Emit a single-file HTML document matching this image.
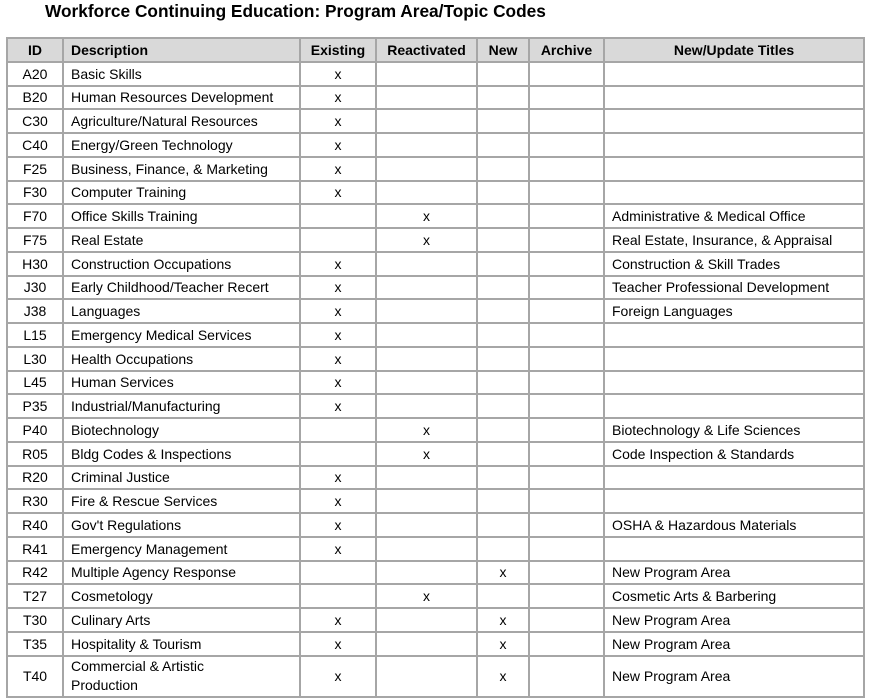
<!DOCTYPE html>
<html><head><meta charset="utf-8"><style>
body{margin:0;width:870px;height:700px;overflow:hidden;background:#fff;font-family:"Liberation Sans",sans-serif;color:#000}
h1{position:absolute;left:45px;top:0;margin:0;font-size:17.3px;font-weight:bold;line-height:22px}
table{position:absolute;left:6px;top:37px;border-collapse:collapse;table-layout:fixed;width:857px}
td,th{border:2px solid #a6a6a6;padding:0 0 0 7px;font-size:14px;height:21.75px;line-height:18px;white-space:nowrap;overflow:hidden}
th{background:#d9d9d9;font-weight:bold;text-align:center;padding:0;height:21.75px}
td.c{text-align:center;padding:0}
td.i{text-align:center;padding:0}
tr.t td{height:39px;white-space:normal;line-height:19px}
</style></head><body>
<h1>Workforce Continuing Education: Program Area/Topic Codes</h1>
<table>
<colgroup><col style="width:56px"><col style="width:237px"><col style="width:76px"><col style="width:101px"><col style="width:52px"><col style="width:75px"><col style="width:260px"></colgroup>
<tr><th>ID</th><th style="text-align:left;padding-left:7px">Description</th><th>Existing</th><th>Reactivated</th><th>New</th><th>Archive</th><th>New/Update Titles</th></tr>
<tr><td class="i">A20</td><td>Basic Skills</td><td class="c">x</td><td></td><td></td><td></td><td></td></tr>
<tr><td class="i">B20</td><td>Human Resources Development</td><td class="c">x</td><td></td><td></td><td></td><td></td></tr>
<tr><td class="i">C30</td><td>Agriculture/Natural Resources</td><td class="c">x</td><td></td><td></td><td></td><td></td></tr>
<tr><td class="i">C40</td><td>Energy/Green Technology</td><td class="c">x</td><td></td><td></td><td></td><td></td></tr>
<tr><td class="i">F25</td><td>Business, Finance, &amp; Marketing</td><td class="c">x</td><td></td><td></td><td></td><td></td></tr>
<tr><td class="i">F30</td><td>Computer Training</td><td class="c">x</td><td></td><td></td><td></td><td></td></tr>
<tr><td class="i">F70</td><td>Office Skills Training</td><td></td><td class="c">x</td><td></td><td></td><td>Administrative &amp; Medical Office</td></tr>
<tr><td class="i">F75</td><td>Real Estate</td><td></td><td class="c">x</td><td></td><td></td><td>Real Estate, Insurance, &amp; Appraisal</td></tr>
<tr><td class="i">H30</td><td>Construction Occupations</td><td class="c">x</td><td></td><td></td><td></td><td>Construction &amp; Skill Trades</td></tr>
<tr><td class="i">J30</td><td>Early Childhood/Teacher Recert</td><td class="c">x</td><td></td><td></td><td></td><td>Teacher Professional Development</td></tr>
<tr><td class="i">J38</td><td>Languages</td><td class="c">x</td><td></td><td></td><td></td><td>Foreign Languages</td></tr>
<tr><td class="i">L15</td><td>Emergency Medical Services</td><td class="c">x</td><td></td><td></td><td></td><td></td></tr>
<tr><td class="i">L30</td><td>Health Occupations</td><td class="c">x</td><td></td><td></td><td></td><td></td></tr>
<tr><td class="i">L45</td><td>Human Services</td><td class="c">x</td><td></td><td></td><td></td><td></td></tr>
<tr><td class="i">P35</td><td>Industrial/Manufacturing</td><td class="c">x</td><td></td><td></td><td></td><td></td></tr>
<tr><td class="i">P40</td><td>Biotechnology</td><td></td><td class="c">x</td><td></td><td></td><td>Biotechnology &amp; Life Sciences</td></tr>
<tr><td class="i">R05</td><td>Bldg Codes &amp; Inspections</td><td></td><td class="c">x</td><td></td><td></td><td>Code Inspection &amp; Standards</td></tr>
<tr><td class="i">R20</td><td>Criminal Justice</td><td class="c">x</td><td></td><td></td><td></td><td></td></tr>
<tr><td class="i">R30</td><td>Fire &amp; Rescue Services</td><td class="c">x</td><td></td><td></td><td></td><td></td></tr>
<tr><td class="i">R40</td><td>Gov't Regulations</td><td class="c">x</td><td></td><td></td><td></td><td>OSHA &amp; Hazardous Materials</td></tr>
<tr><td class="i">R41</td><td>Emergency Management</td><td class="c">x</td><td></td><td></td><td></td><td></td></tr>
<tr><td class="i">R42</td><td>Multiple Agency Response</td><td></td><td></td><td class="c">x</td><td></td><td>New Program Area</td></tr>
<tr><td class="i">T27</td><td>Cosmetology</td><td></td><td class="c">x</td><td></td><td></td><td>Cosmetic Arts &amp; Barbering</td></tr>
<tr><td class="i">T30</td><td>Culinary Arts</td><td class="c">x</td><td></td><td class="c">x</td><td></td><td>New Program Area</td></tr>
<tr><td class="i">T35</td><td>Hospitality &amp; Tourism</td><td class="c">x</td><td></td><td class="c">x</td><td></td><td>New Program Area</td></tr>
<tr class="t"><td class="i">T40</td><td>Commercial &amp; Artistic<br>Production</td><td class="c">x</td><td></td><td class="c">x</td><td></td><td>New Program Area</td></tr>
</table>
</body></html>
